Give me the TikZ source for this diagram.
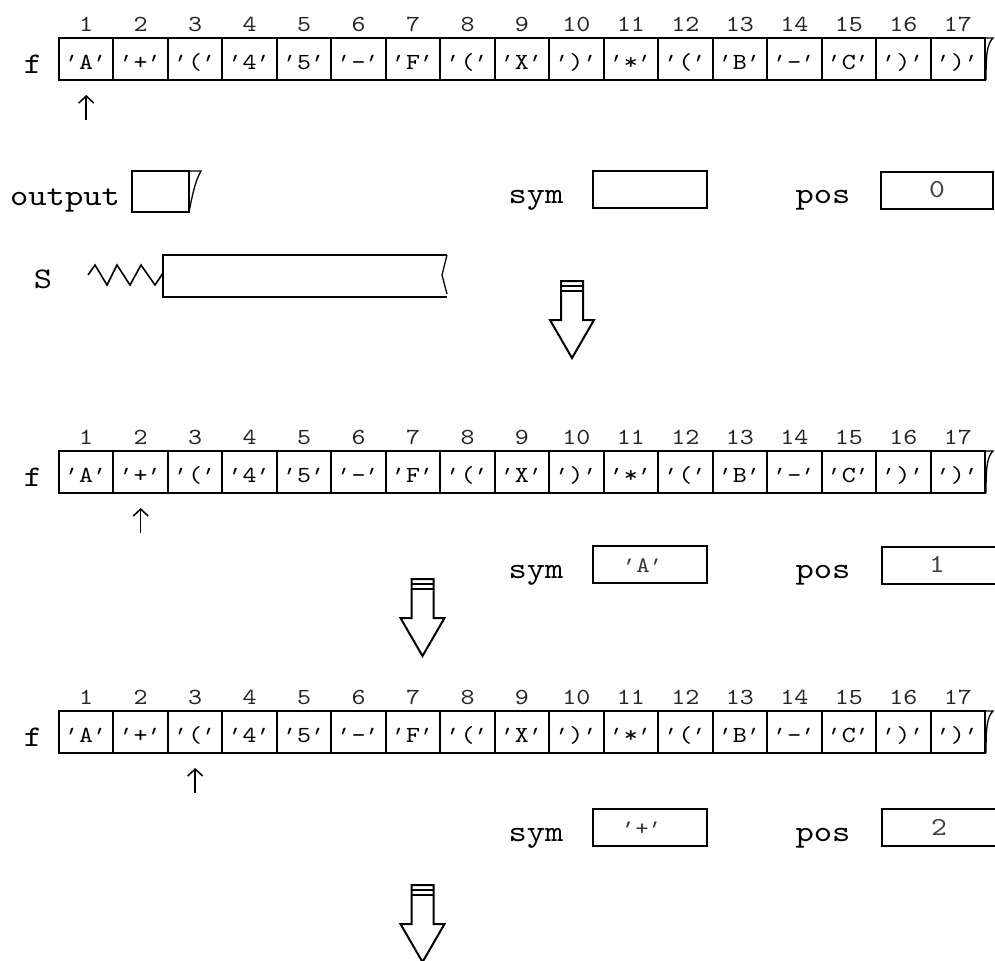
\documentclass[tikz,border=0pt]{standalone}
\usepackage{fontspec}
\usetikzlibrary{arrows.meta}
\newfontfamily\mono{lmmono10-regular.otf}[FakeStretch=1.16]
\newfontfamily\monoq{lmmono10-regular.otf}[FakeStretch=1.16, FakeSlant=0.35]
\newcommand\qt{{\kern-0.2em\monoq\symbol{39}\kern0.2em}}
\tikzset{
 lbl/.style={font=\mono\fontsize{15}{16}\selectfont, inner sep=0pt, anchor=base},
 celltxt/.style={font=\mono\fontsize{11.5}{12}\selectfont, inner sep=0pt, anchor=base},
 idx/.style={font=\mono\fontsize{11.5}{12}\selectfont, inner sep=0pt, anchor=base, text=black!85},
 valtxt/.style={font=\mono\fontsize{11}{12}\selectfont, inner sep=0pt, anchor=base, text=black!80},
 numtxt/.style={font=\mono\fontsize{13}{14}\selectfont, inner sep=0pt, anchor=base, text=black!75},
 boxline/.style={line width=1pt},
 thinline/.style={line width=0.65pt},
 cellbox/.style={draw, boxline, minimum width=27.235pt, minimum height=21pt, inner sep=0pt, outer sep=0pt},
 varbox/.style={draw, boxline, minimum width=57pt, minimum height=18.5pt, inner sep=0pt, outer sep=0pt},
 ptr/.style={line width=0.75pt, -{Straight Barb[length=3.5pt, width=7.5pt, line width=0.75pt]}},
 bigarr/.style={line width=1pt, line join=miter},
}
\newcommand\arrayrow[3]{%
 \foreach \c [count=\i] in {A,+,{(},4,5,-,F,{(},X,{)},*,{(},B,-,C,{)},{)}} {
   \node[cellbox] (#1c\i) at ({59+54.47*(\i-0.5)}, {#2+21}) {};
   \path (#1c\i.south) ++(0,-11) node[celltxt] (#1t\i) {\qt\c\qt};
   \path (#1c\i.north) ++(0,-7) node[idx] (#1n\i) {\i};
 }
 \node[lbl] (#1f) at (33, #2+35) {f};
 \coordinate (#1e1) at (985.5, #2);
 \coordinate (#1e2) at (993, #2);
 \coordinate (#1e3) at (986, #2+42);
 \draw[thinline] (#1e1) -- (#1e2) .. controls (987,#2+6) and (986,#2+16) .. (#1e3);
 \coordinate (#1ps) at ({59+54.47*(#3-0.5)}, #2+82);
 \coordinate (#1pe) at ({59+54.47*(#3-0.5)}, #2+57);
 \draw[ptr] (#1ps) -- (#1pe);
}
\newcommand\bigarrow[3]{%
 \coordinate (#1) at (#2,#3);
 \draw[bigarr] (#2-11,#3) -- (#2+11,#3) -- (#2+11,#3+39) -- (#2+22,#3+39) -- (#2,#3+77)
   -- (#2-22,#3+39) -- (#2-11,#3+39) -- cycle;
 \draw[bigarr] (#2-11,#3+5) -- (#2+11,#3+5);
 \draw[bigarr] (#2-11,#3+10) -- (#2+11,#3+10);
}
\begin{document}
\begin{tikzpicture}[x=0.5pt,y=-0.5pt]
\useasboundingbox[fill=white] (0,0) rectangle (995,960);

% ---------- state 1 ----------
\arrayrow{ra}{38}{1}

\node[lbl] (outlbl) at (65,205) {output};
\node[draw, boxline, minimum width=28.5pt, minimum height=20.5pt, inner sep=0pt, outer sep=0pt] (outbox) at (160.5,191.5) {};
\coordinate (outt) at (201,171);
\draw[thinline] (outbox.north east) -- (outt) .. controls (195,181) and (192,197) .. (outbox.south east);

\node[lbl] (symlblA) at (536,203) {sym};
\node[varbox] (symA) at (650,189.5) {};
\node[lbl] (poslblA) at (823,203) {pos};
\node[draw, boxline, minimum width=56pt, minimum height=18.5pt, inner sep=0pt, outer sep=0pt] (posA) at (937,190.5) {};
\node[numtxt] (posvA) at (937,197) {0};

\node[lbl] (Slbl) at (43,288) {S};
\coordinate (z0) at (88,275);
\coordinate (z7) at (163,273);
\draw[line width=0.8pt, line join=miter] (z0) -- (95,265) -- (107,285) -- (117,265) -- (130,285) -- (141,265) -- (155,285) -- (z7);
\coordinate (s1) at (447,255);
\coordinate (s2) at (163,255);
\coordinate (s3) at (163,297);
\coordinate (s4) at (447,297);
\draw[boxline] (s1) -- (s2) -- (s3) -- (s4);
\draw[thinline] (s1) -- (442,275) -- (447,294);

\bigarrow{arrA}{572}{281}

% ---------- state 2 ----------
\arrayrow{rb}{451}{2}
\node[lbl] (symlblB) at (536,578) {sym};
\node[varbox] (symB) at (650,564.5) {};
\node[valtxt] (symvB) at (643,572) {\qt A\qt};
\node[lbl] (poslblB) at (823,578) {pos};
\coordinate (pb1) at (995,547);
\coordinate (pb2) at (882,547);
\coordinate (pb3) at (882,584);
\coordinate (pb4) at (995,584);
\draw[boxline] (pb1) -- (pb2) -- (pb3) -- (pb4);
\node[numtxt] (posvB) at (937,572) {1};

\bigarrow{arrB}{422.5}{579}

% ---------- state 3 ----------
\arrayrow{rc}{711}{3}
\node[lbl] (symlblC) at (536,841) {sym};
\node[varbox] (symC) at (650,827.5) {};
\node[valtxt] (symvC) at (642,835) {\qt+\qt};
\node[lbl] (poslblC) at (823,841) {pos};
\coordinate (pc1) at (995,809);
\coordinate (pc2) at (882,809);
\coordinate (pc3) at (882,846);
\coordinate (pc4) at (995,846);
\draw[boxline] (pc1) -- (pc2) -- (pc3) -- (pc4);
\node[numtxt] (posvC) at (939,835) {2};

\bigarrow{arrC}{422.5}{885}
\end{tikzpicture}
\end{document}
